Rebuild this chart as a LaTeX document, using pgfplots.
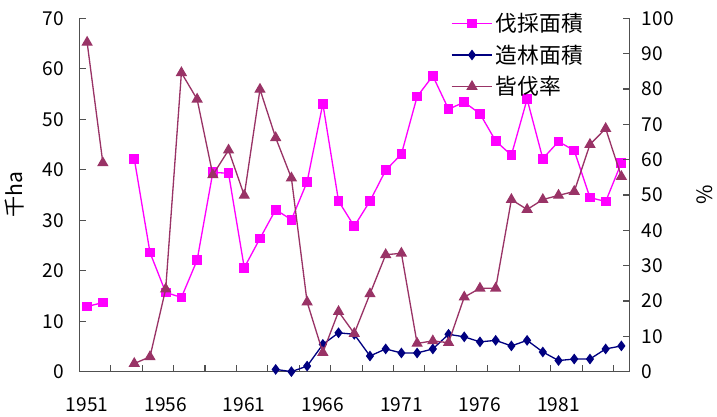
\documentclass[border=0pt]{standalone}
\usepackage{fontspec}
\setmainfont{Noto Sans CJK JP}
\usepackage{pgfplots}
\usepackage{pgfplotstable}
\pgfplotsset{compat=1.18}
\definecolor{cutc}{RGB}{255,0,255}
\definecolor{plantc}{RGB}{0,0,128}
\definecolor{ratec}{RGB}{153,51,102}
\definecolor{axisgray}{RGB}{80,80,80}

\pgfplotstableread{
year cut plant rate
1951 12.9 nan 93.2
1952 13.7 nan 59.1
1953 nan nan nan
1954 42.2 nan 2.3
1955 23.6 nan 4.2
1956 15.7 nan 23.4
1957 14.7 nan 84.6
1958 22.1 nan 77.1
1959 39.5 nan 55.7
1960 39.3 nan 62.7
1961 20.6 nan 49.9
1962 26.4 nan 79.9
1963 32.1 0.45 66.2
1964 30.1 0.0 54.8
1965 37.6 1.1 19.7
1966 53.1 5.4 5.4
1967 33.8 7.7 17.0
1968 28.8 7.4 10.8
1969 33.8 3.1 22.0
1970 39.9 4.5 33.1
1971 43.1 3.7 33.5
1972 54.5 3.7 8.0
1973 58.6 4.5 8.7
1974 52.0 7.4 8.2
1975 53.4 6.9 21.1
1976 51.1 5.9 23.6
1977 45.7 6.2 23.6
1978 42.9 5.1 48.7
1979 54.0 6.2 45.9
1980 42.2 3.9 48.7
1981 45.6 2.2 49.9
1982 43.8 2.5 51.0
1983 34.5 2.5 64.3
1984 33.7 4.5 68.8
1985 41.4 5.1 55.2
}\datatable

\begin{document}
\begin{tikzpicture}
\pgfplotsset{
  base/.style={
    width=416.25pt, height=267.4pt, scale only axis,
    xmin=1950.5, xmax=1985.5,
    font=\fontsize{14.5}{17}\selectfont,
    /pgf/number format/assume math mode=true,
    tick align=inside, major tick length=5pt,
    axis line style={-, axisgray, line width=0.8pt},
    tick style={axisgray, line width=0.8pt},
    unbounded coords=jump, clip=false,
  },
  cutstyle/.style={color=cutc, line width=1pt, mark=square*, mark size=3.2pt, mark options={solid, fill=cutc}},
  plantstyle/.style={color=plantc, line width=1pt, mark=diamond*, mark size=3.3pt, mark options={solid, fill=plantc}},
  ratestyle/.style={color=ratec, line width=1pt, mark=triangle*, mark size=4pt, mark options={solid, fill=ratec}},
}
\begin{axis}[base, name=ax,
  ymin=0, ymax=70, ytick={0,10,...,70},
  axis y line*=left, axis x line*=bottom,
  xtick={1950.5,1952.5,...,1984.5}, xticklabels={},
  extra x ticks={1951,1956,1961,1966,1971,1976,1981},
  extra x tick labels={1951,1956,1961,1966,1971,1976,1981},
  extra x tick style={major tick length=0pt},
  xticklabel style={yshift=-16pt},
  yticklabel style={xshift=-8pt},
  ylabel={千ha},
  ylabel style={at={(axis description cs:-0.117,0.5)}, anchor=center, rotate=0, font=\fontsize{16}{18}\selectfont},
  legend style={at={(axis description cs:0.668,1.03)}, anchor=north west, draw=none, fill=none,
    font=\fontsize{16.5}{19}\selectfont, row sep=4.5pt},
  legend cell align=left,
  legend image code/.code={\draw[mark repeat=2, mark phase=2] plot coordinates {(0pt,0pt) (15.5pt,0pt) (31pt,0pt)};},
]
\addplot[cutstyle] table[x=year, y=cut] {\datatable};
\addlegendentry{伐採面積}
\addplot[plantstyle] table[x=year, y=plant] {\datatable};
\addlegendentry{造林面積}
\addlegendimage{ratestyle}
\addlegendentry{皆伐率}
\end{axis}
\begin{axis}[base,
  ymin=0, ymax=100, ytick={0,10,...,100},
  axis y line*=right, axis x line=none,
  yticklabel pos=right,
  yticklabel style={xshift=6pt},
  ylabel={\%},
  ylabel style={at={(axis description cs:1.137,0.5)}, anchor=center, rotate=0, font=\fontsize{16}{18}\selectfont},
]
\addplot[ratestyle] table[x=year, y=rate] {\datatable};
\end{axis}
\path[use as bounding box] ([xshift=-60pt,yshift=-31.5pt]ax.south west) rectangle ([xshift=61.5pt,yshift=13.9pt]ax.north east);
\end{tikzpicture}
\end{document}
